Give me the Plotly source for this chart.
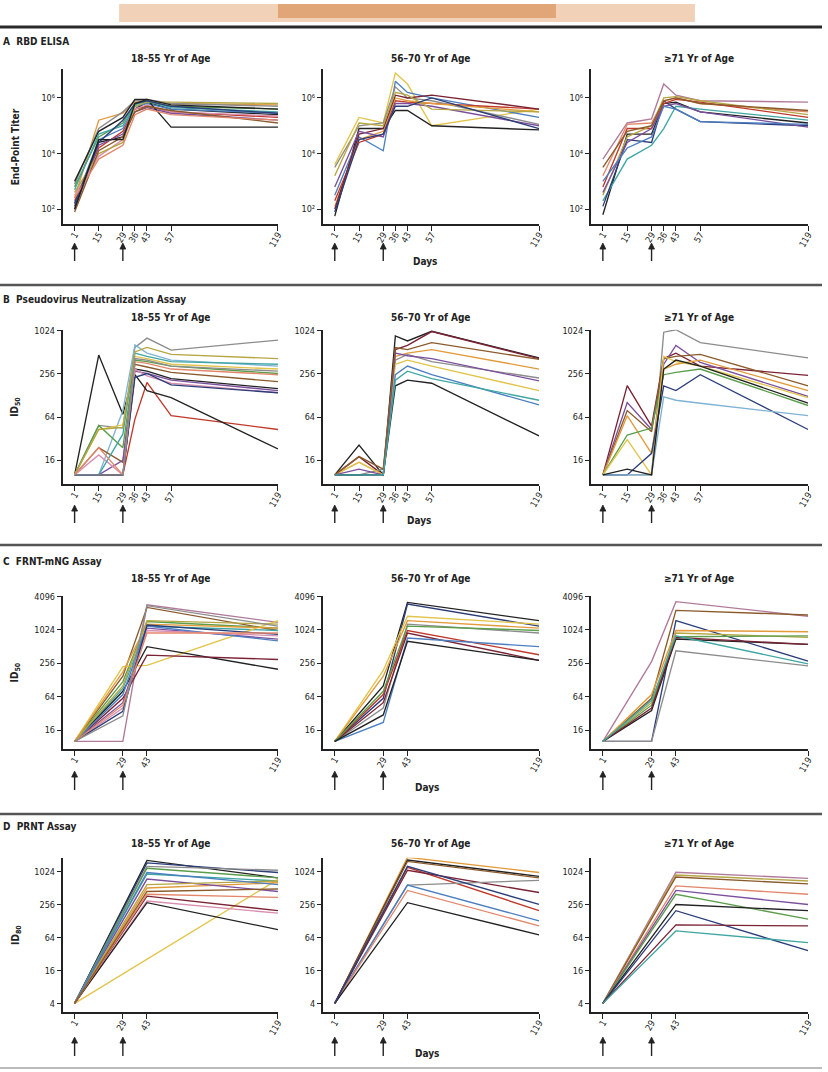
import plotly.graph_objects as go

W, H = 828, 1072

# ---------------- data ----------------
DAYS_ELISA = [1, 15, 29, 36, 43, 57, 119]
DAYS_PSV = [1, 15, 29, 36, 43, 57, 119]
DAYS_FRNT = [1, 29, 43, 119]
DAYS_PRNT = [1, 43, 119]
VACCINATION_DAYS = [1, 29]

XTICKS_LONG = [1, 15, 29, 36, 43, 57, 119]
XTICKS_SHORT = [1, 29, 43, 119]

YTICKS_ELISA = [1e2, 1e4, 1e6]
YTICKS_ELISA_TEXT = ["10²", "10⁴", "10⁶"]
YTICKS_PSV = [16, 64, 256, 1024]
YTICKS_FRNT = [16, 64, 256, 1024, 4096]
YTICKS_PRNT = [4, 16, 64, 256, 1024]

AGE_GROUPS = ["18–55 Yr of Age", "56–70 Yr of Age", "≥71 Yr of Age"]
ASSAYS = ["RBD ELISA", "Pseudovirus Neutralization Assay", "FRNT-mNG Assay", "PRNT Assay"]
PANEL_LETTERS = ["A", "B", "C", "D"]
Y_TITLES = ["End-Point Titer", "ID<sub>50</sub>", "ID<sub>50</sub>", "ID<sub>80</sub>"]

# RBD ELISA end-point titers, log10 scale, one row per participant
ELISA_18_55_LOG10 = [
    [2.1, 4.4, 4.6, 5.6, 5.85, 5.6, 5.4],
    [2.4, 5.2, 5.45, 5.85, 5.9, 5.8, 5.75],
    [2.9, 4.9, 5.5, 5.9, 5.95, 5.8, 5.7],
    [2.2, 4.5, 4.9, 5.7, 5.8, 5.6, 5.45],
    [2.3, 4.2, 4.8, 5.6, 5.7, 5.5, 5.3],
    [2.8, 4.6, 5.1, 5.8, 5.85, 5.7, 5.6],
    [2.0, 4.3, 4.7, 5.5, 5.65, 5.45, 5.2],
    [2.5, 3.9, 4.5, 5.6, 5.75, 5.5, 5.35],
    [3.0, 4.8, 5.3, 5.95, 5.95, 4.95, 4.95],
    [2.6, 4.0, 4.4, 5.7, 5.85, 5.85, 5.8],
    [2.7, 4.7, 5.0, 5.75, 5.9, 5.65, 5.5],
    [1.9, 4.1, 4.6, 5.5, 5.7, 5.55, 5.1],
    [2.2, 4.4, 5.2, 5.8, 5.9, 5.7, 5.45],
    [2.4, 3.8, 4.3, 5.4, 5.6, 5.4, 5.2],
    [2.0, 4.5, 4.5, 5.8, 5.95, 5.75, 5.6],
]
ELISA_56_70_LOG10 = [
    [3.6, 5.3, 5.1, 6.9, 6.5, 5.0, 5.6],
    [1.75, 4.9, 4.9, 5.55, 5.55, 5.0, 4.85],
    [2.5, 4.6, 4.1, 6.6, 6.2, 6.0, 5.3],
    [2.3, 4.4, 4.7, 5.9, 5.85, 5.8, 5.6],
    [3.5, 5.0, 5.1, 6.4, 6.0, 5.9, 5.05],
    [2.1, 4.5, 4.8, 6.0, 5.9, 5.8, 5.5],
    [2.0, 4.7, 4.9, 6.1, 6.0, 6.1, 5.6],
    [2.8, 4.8, 4.6, 5.8, 5.8, 5.7, 5.0],
    [3.2, 5.1, 5.0, 6.2, 6.1, 5.6, 5.5],
    [1.9, 4.5, 4.7, 5.7, 5.7, 6.0, 4.9],
]
ELISA_71_LOG10 = [
    [3.8, 5.1, 5.25, 6.5, 6.1, 5.9, 5.85],
    [1.8, 4.7, 4.7, 5.8, 5.85, 5.5, 5.1],
    [2.3, 3.8, 4.3, 4.9, 5.7, 5.6, 5.2],
    [2.1, 4.5, 4.4, 5.9, 5.6, 5.15, 5.0],
    [3.2, 5.05, 5.1, 5.9, 6.0, 5.8, 5.5],
    [2.8, 4.9, 4.9, 5.8, 5.95, 5.85, 5.3],
    [2.5, 4.6, 5.0, 6.0, 6.05, 5.9, 5.4],
    [3.5, 4.8, 5.0, 5.9, 6.0, 5.8, 5.55],
    [2.6, 4.4, 4.9, 5.7, 5.8, 5.5, 4.95],
    [3.0, 4.2, 4.6, 5.7, 5.6, 5.15, 5.05],
]

# Pseudovirus neutralization ID50
PSV_18_55 = [
    [10, 470, 70, 300, 280, 220, 160],
    [10, 49, 45, 600, 810, 550, 760],
    [10, 10, 79, 650, 500, 400, 330],
    [10, 43, 50, 450, 420, 350, 300],
    [10, 49, 24, 400, 380, 330, 260],
    [10, 10, 10, 60, 195, 67, 43],
    [10, 10, 10, 250, 150, 120, 23],
    [10, 24, 15, 350, 320, 270, 200],
    [10, 10, 16, 280, 260, 210, 150],
    [10, 19, 10, 300, 240, 190, 140],
    [10, 10, 37, 500, 450, 380, 350],
    [10, 10, 10, 230, 260, 180, 140],
    [10, 43, 46, 520, 600, 480, 420],
    [10, 24, 10, 380, 360, 300, 250],
    [10, 10, 10, 420, 400, 330, 280],
]
PSV_56_70 = [
    [10, 26, 10, 870, 740, 1010, 430],
    [10, 18, 10, 560, 640, 1000, 420],
    [10, 15, 10, 450, 500, 560, 300],
    [10, 10, 12, 400, 480, 380, 225],
    [10, 15, 10, 350, 400, 330, 150],
    [10, 10, 10, 250, 330, 250, 95],
    [10, 10, 10, 175, 210, 190, 35],
    [10, 12, 10, 500, 460, 420, 205],
    [10, 18, 12, 600, 560, 700, 410],
    [10, 10, 10, 210, 280, 220, 110],
]
PSV_71 = [
    [10, 10, 10, 980, 1060, 700, 430],
    [10, 176, 48, 420, 500, 330, 245],
    [10, 102, 43, 350, 640, 370, 125],
    [10, 79, 40, 420, 450, 480, 175],
    [10, 67, 20, 300, 350, 400, 150],
    [10, 36, 45, 250, 270, 300, 93],
    [10, 31, 10, 450, 380, 330, 120],
    [10, 10, 20, 175, 150, 250, 43],
    [10, 10, 10, 123, 110, 100, 67],
    [10, 12, 10, 300, 400, 330, 100],
]

# FRNT-mNG ID50
FRNT_18_55 = [
    [10, 10, 2900, 1400],
    [10, 150, 2600, 1000],
    [10, 120, 1450, 1100],
    [10, 90, 1200, 1000],
    [10, 223, 235, 1500],
    [10, 80, 510, 200],
    [10, 60, 360, 300],
    [10, 50, 1100, 700],
    [10, 70, 1200, 650],
    [10, 180, 1300, 1100],
    [10, 40, 1000, 800],
    [10, 35, 1250, 850],
    [10, 100, 1500, 1300],
    [10, 45, 900, 900],
    [10, 29, 2800, 1200],
]
FRNT_56_70 = [
    [10, 100, 3200, 1500],
    [10, 60, 3000, 1200],
    [10, 190, 1800, 1300],
    [10, 150, 1500, 1100],
    [10, 40, 1300, 900],
    [10, 70, 1000, 365],
    [10, 50, 900, 290],
    [10, 22, 730, 510],
    [10, 80, 1200, 1000],
    [10, 30, 640, 290],
]
FRNT_71 = [
    [10, 275, 3300, 1800],
    [10, 60, 2300, 1900],
    [10, 10, 1500, 280],
    [10, 70, 1000, 950],
    [10, 50, 900, 750],
    [10, 45, 770, 800],
    [10, 36, 700, 560],
    [10, 40, 750, 560],
    [10, 10, 430, 230],
    [10, 55, 800, 250],
]

# PRNT ID80 (days 1, 43, 119)
PRNT_18_55 = [
    [4, 1670, 800],
    [4, 1500, 1000],
    [4, 1300, 1100],
    [4, 1200, 800],
    [4, 940, 700],
    [4, None, 750],
    [4, 520, 650],
    [4, 760, 450],
    [4, 370, 200],
    [4, 300, 180],
    [4, 280, 90],
    [4, 600, 700],
    [4, 1000, 600],
    [4, 400, 350],
    [4, 450, 500],
]
PRNT_56_70 = [
    [4, 1900, 1000],
    [4, 1700, 850],
    [4, 1600, 800],
    [4, 1250, 200],
    [4, 1100, 430],
    [4, 590, 720],
    [4, 590, 130],
    [4, 470, 105],
    [4, 280, 72],
    [4, 1300, 260],
]
PRNT_71 = [
    [4, 1010, 780],
    [4, 900, 700],
    [4, 830, 620],
    [4, 570, 400],
    [4, 470, 260],
    [4, 400, 140],
    [4, 260, 200],
    [4, 200, 37],
    [4, 110, 105],
    [4, 85, 52],
]

# ---------------- styles ----------------
C = {
    "black": "#222222", "gray": "#8c8c8c", "orange": "#e39a3a", "blue": "#4b7fc1",
    "red": "#c0392b", "green": "#5a9e4b", "purple": "#7b4f9d", "pink": "#d98fb0",
    "teal": "#3fa7a3", "brown": "#8b5a2b", "navy": "#2c3e7a", "olive": "#b5a642",
    "salmon": "#e3876b", "maroon": "#7b2335", "yellow": "#e2c44a", "mauve": "#b07a9a",
    "ltblue": "#7fb3d5",
}
COL15 = ["black", "orange", "gray", "blue", "red", "green", "purple", "pink",
         "black", "olive", "teal", "brown", "navy", "salmon", "black"]
COL_ELISA_56 = ["yellow", "black", "blue", "red", "gray", "orange", "maroon", "purple", "olive", "navy"]
COL_ELISA_71 = ["mauve", "black", "teal", "navy", "salmon", "red", "olive", "brown", "purple", "blue"]
COL_PSV_18 = ["black", "gray", "ltblue", "yellow", "green", "red", "black", "brown",
              "purple", "pink", "teal", "navy", "olive", "salmon", "gray"]
COL_PSV_56 = ["black", "maroon", "orange", "gray", "yellow", "blue", "black", "purple", "brown", "teal"]
COL_PSV_71 = ["gray", "maroon", "purple", "brown", "orange", "green", "yellow", "navy", "ltblue", "black"]
COL_FRNT_18 = ["mauve", "brown", "green", "teal", "yellow", "black", "maroon", "purple",
               "blue", "orange", "pink", "navy", "olive", "salmon", "gray"]
COL_FRNT_56 = ["black", "navy", "yellow", "orange", "gray", "red", "maroon", "blue", "green", "black"]
COL_FRNT_71 = ["mauve", "brown", "navy", "orange", "olive", "green", "black", "maroon", "gray", "teal"]
COL_PRNT_18 = ["black", "navy", "gray", "green", "teal", "yellow", "orange", "purple",
               "maroon", "pink", "black", "olive", "blue", "salmon", "brown"]
COL_PRNT_56 = ["orange", "black", "brown", "red", "maroon", "gray", "blue", "salmon", "black", "navy"]
COL_PRNT_71 = ["mauve", "olive", "brown", "salmon", "purple", "green", "black", "navy", "maroon", "teal"]

FONT = "Liberation Sans Narrow, DejaVu Sans Condensed, Arial Narrow, sans-serif"

X_DOM_PX = [(63, 280), (325, 543), (595, 814)]
ROW_PX = [(65, 221), (327, 482), (594, 748), (857, 1012)]
Y_RANGES = [[1.46, 7.05], [0.87, 3.025], [0.86, 3.625], [0.44, 3.27]]
TITLE_Y_PX = [55, 315, 577, 843]
HEADER_Y_PX = [38, 297, 560, 826]
ARROW_PX = [(240, 258), (503, 521), (770, 789), (1037, 1056)]
DAYS_LABEL_PX = [(428, 258), (422, 518), (430, 786), (430, 1053)]
DIVIDERS_PX = [23, 282, 543, 813]


def py(p):
    return 1 - p / H


def px(p):
    return p / W


panels = [
    (0, 0, DAYS_ELISA, [[10 ** v for v in r] for r in ELISA_18_55_LOG10], COL15),
    (0, 1, DAYS_ELISA, [[10 ** v for v in r] for r in ELISA_56_70_LOG10], COL_ELISA_56),
    (0, 2, DAYS_ELISA, [[10 ** v for v in r] for r in ELISA_71_LOG10], COL_ELISA_71),
    (1, 0, DAYS_PSV, PSV_18_55, COL_PSV_18),
    (1, 1, DAYS_PSV, PSV_56_70, COL_PSV_56),
    (1, 2, DAYS_PSV, PSV_71, COL_PSV_71),
    (2, 0, DAYS_FRNT, FRNT_18_55, COL_FRNT_18),
    (2, 1, DAYS_FRNT, FRNT_56_70, COL_FRNT_56),
    (2, 2, DAYS_FRNT, FRNT_71, COL_FRNT_71),
    (3, 0, DAYS_PRNT, PRNT_18_55, COL_PRNT_18),
    (3, 1, DAYS_PRNT, PRNT_56_70, COL_PRNT_56),
    (3, 2, DAYS_PRNT, PRNT_71, COL_PRNT_71),
]
Y_TICKS = [
    (YTICKS_ELISA, YTICKS_ELISA_TEXT),
    (YTICKS_PSV, [str(v) for v in YTICKS_PSV]),
    (YTICKS_FRNT, [str(v) for v in YTICKS_FRNT]),
    (YTICKS_PRNT, [str(v) for v in YTICKS_PRNT]),
]
X_TICKS = [XTICKS_LONG, XTICKS_LONG, XTICKS_SHORT, XTICKS_SHORT]

fig = go.Figure()
layout = dict(
    width=W, height=H, autosize=False, margin=dict(l=0, r=0, t=0, b=0),
    paper_bgcolor="white", plot_bgcolor="white", showlegend=False,
    font=dict(family=FONT, color="#222"),
)
annotations = []
shapes = []

for k, (r, c, days, rows, cols) in enumerate(panels):
    idx = k + 1
    xa = "xaxis" if idx == 1 else f"xaxis{idx}"
    ya = "yaxis" if idx == 1 else f"yaxis{idx}"
    xref = "x" if idx == 1 else f"x{idx}"
    yref = "y" if idx == 1 else f"y{idx}"
    for vals, cname in zip(rows, cols):
        fig.add_trace(go.Scatter(
            x=days, y=vals, mode="lines", xaxis=xref, yaxis=yref,
            line=dict(color=C[cname], width=1.35), connectgaps=True,
            hoverinfo="skip",
        ))
    x0, x1 = X_DOM_PX[c]
    t, b = ROW_PX[r]
    layout[xa] = dict(
        domain=[px(x0), px(x1)], anchor=yref, range=[-6, 119],
        tickmode="array", tickvals=X_TICKS[r], ticktext=[str(v) for v in X_TICKS[r]],
        tickangle=-60, ticks="outside", ticklen=5, tickwidth=1.3, tickcolor="#222",
        ticklabelstandoff=-5,
        showline=True, linewidth=1.6, linecolor="#222", showgrid=False, zeroline=False,
        tickfont=dict(family=FONT, size=9, color="#222"),
    )
    tv, tt = Y_TICKS[r]
    layout[ya] = dict(
        domain=[py(b), py(t)], anchor=xref, type="log", range=Y_RANGES[r],
        tickmode="array", tickvals=tv, ticktext=tt,
        ticks="outside", ticklen=4, tickwidth=1.3, tickcolor="#222",
        showline=True, linewidth=1.6, linecolor="#222", showgrid=False, zeroline=False,
        tickfont=dict(family=FONT, size=9, color="#222"),
    )
    # column title
    annotations.append(dict(
        text=f"<b>{AGE_GROUPS[c]}</b>", x=px((x0 + x1) / 2), y=py(TITLE_Y_PX[r]),
        xref="paper", yref="paper", showarrow=False, xanchor="center", yanchor="middle",
        font=dict(family=FONT, size=10, color="#222"),
    ))
    # vaccination arrows (shaft + head), x in data days, y in paper
    tip, tail = ARROW_PX[r]
    for d in VACCINATION_DAYS:
        shapes.append(dict(
            type="line", xref=xref, yref="paper", x0=d, x1=d,
            y0=py(tail), y1=py(tip + 4), line=dict(color="#222", width=1.4),
        ))
        shapes.append(dict(
            type="path", xref=xref, yref="paper",
            path=f"M {d - 1.7} {py(tip + 6)} L {d} {py(tip)} L {d + 1.7} {py(tip + 6)} Z",
            fillcolor="#222", line=dict(color="#222", width=0.8),
        ))

for r in range(4):
    annotations.append(dict(
        text=f"<b>{PANEL_LETTERS[r]}  {ASSAYS[r]}</b>", x=px(1), y=py(HEADER_Y_PX[r]),
        xref="paper", yref="paper", showarrow=False, xanchor="left", yanchor="middle",
        font=dict(family=FONT, size=10, color="#222"),
    ))
    t, b = ROW_PX[r]
    annotations.append(dict(
        text=f"<b>{Y_TITLES[r]}</b>", x=px(16), y=py((t + b) / 2),
        xref="paper", yref="paper", showarrow=False, textangle=-90,
        xanchor="center", yanchor="middle",
        font=dict(family=FONT, size=10, color="#222"),
    ))
    dx, dy = DAYS_LABEL_PX[r]
    annotations.append(dict(
        text="<b>Days</b>", x=px(dx), y=py(dy), xref="paper", yref="paper",
        showarrow=False, xanchor="center", yanchor="middle",
        font=dict(family=FONT, size=10, color="#222"),
    ))

for i, yd in enumerate(DIVIDERS_PX):
    shapes.append(dict(
        type="line", xref="paper", yref="paper", x0=0, x1=1, y0=py(yd), y1=py(yd),
        line=dict(color="#2a2a2a" if i == 0 else "#555555", width=3 if i == 0 else 2.5),
    ))
shapes.append(dict(type="line", xref="paper", yref="paper", x0=0, x1=1,
                   y0=py(1068), y1=py(1068), line=dict(color="#bbbbbb", width=2)))
# warm strip at the top of the photographed page
shapes.append(dict(type="rect", xref="paper", yref="paper", x0=px(120), x1=px(700),
                   y0=py(18), y1=1, fillcolor="#f1d2b8", line=dict(width=0), layer="below"))
shapes.append(dict(type="rect", xref="paper", yref="paper", x0=px(280), x1=px(560),
                   y0=py(14), y1=1, fillcolor="#d9935c", opacity=0.7, line=dict(width=0),
                   layer="below"))

layout["annotations"] = annotations
layout["shapes"] = shapes
fig.update_layout(**layout)
fig.write_html("out.html", config={"displayModeBar": False},
               post_script="document.body.style.margin='0px';")
